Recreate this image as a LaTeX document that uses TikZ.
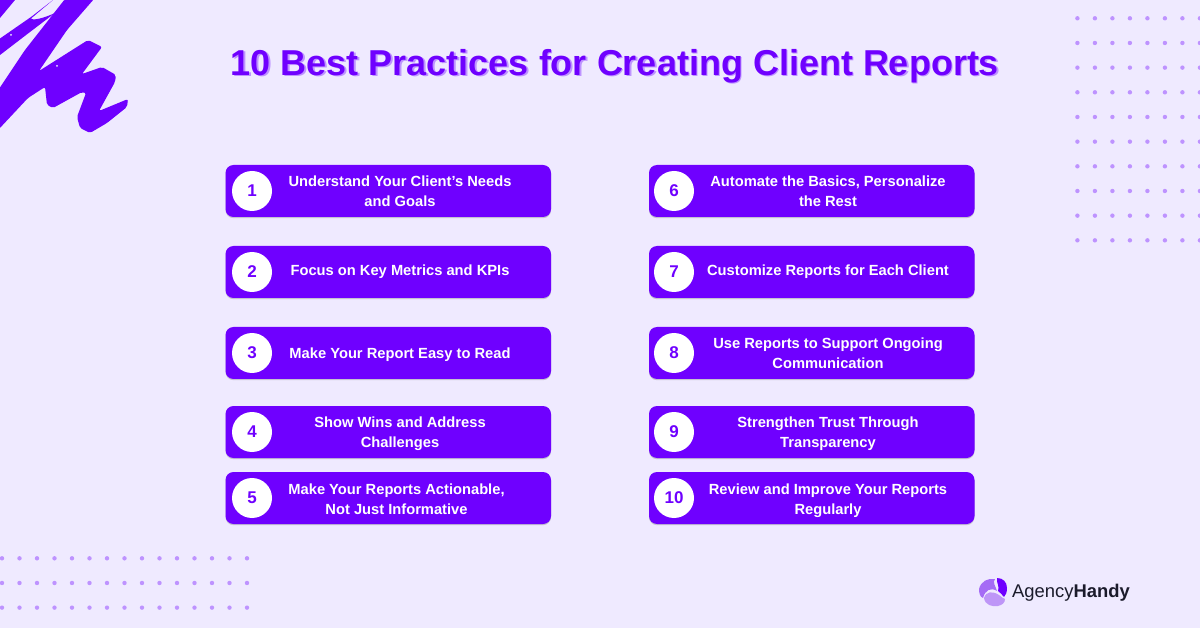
\documentclass[tikz,border=0pt]{standalone}
\usepackage{fontspec}
\setmainfont{Liberation Sans}
\usetikzlibrary{shadows}
\definecolor{pagebg}{HTML}{EFEAFF}
\definecolor{brandviolet}{HTML}{6F00FF}
\definecolor{dotviolet}{HTML}{BE93FF}
\definecolor{petalviolet}{HTML}{A56CF5}
\definecolor{petallight}{HTML}{BE96F7}
\definecolor{logoink}{HTML}{1B1B2B}
\tikzset{
  reportbox/.style={fill=brandviolet,rounded corners=8pt,minimum width=325.5pt,minimum height=52pt,inner sep=0pt,
    drop shadow={shadow xshift=0pt,shadow yshift=-1.2pt,opacity=.3,fill=black!60}},
  numdisc/.style={circle,fill=white,minimum size=40pt,inner sep=0pt,text=brandviolet,font=\fontsize{17}{20}\selectfont\bfseries},
  reporttext/.style={text=white,align=center,inner sep=0pt,font=\fontsize{14.7}{20}\selectfont\bfseries},
  griddot/.style={fill=dotviolet}
}
\begin{document}
\begin{tikzpicture}[x=1pt,y=-1pt]

        \useasboundingbox (0,0) rectangle (1200,628);
        \fill[pagebg] (0,0) rectangle (1200,628);

        \foreach \i in {0,...,7}
          \foreach \j in {0,...,9}
            \fill[griddot] (1077.4+17.5*\i,18.3+24.67*\j) circle (2.2pt);
        \foreach \i in {0,...,14}
          \foreach \j in {0,...,2}
            \fill[griddot] (2+17.5*\i,558.3+24.67*\j) circle (2.2pt);

        \begin{scope}[brandviolet]
          \fill (0,0) -- (15,0) -- (0,18) -- cycle;
          \fill (0,38.5) -- (31,17) -- (53,0) -- (31,18.5)
            .. controls (33,21) and (44,18) .. (55,13)
            -- (30,32) -- (0,55) -- cycle;
          \fill[rounded corners=2pt] (65,-1) -- (94,-1) -- (67,30) -- (39,71) -- (88,40) -- (102,47)
            -- (82,74) -- (102,67) -- (116,75) -- (115,82) -- (99,111) -- (128,99) -- (127,107)
            -- (107,123) -- (90,133) -- (80,128) -- (77,117) -- (86,93) -- (82,92) -- (53,108) -- (47,105)
            -- (45,87) -- (28,98) -- (-1,129) -- (-1,89) -- (25,50) -- cycle;
          \fill[pagebg] (11,35) circle (1pt);
          \fill[pagebg] (57,66) circle (1pt);
        \end{scope}

        \node[text=dotviolet,font=\fontsize{36}{40}\selectfont\bfseries] (titleshade) at (616.2,67.2) {10 Best Practices for Creating Client Reports};
        \node[text=brandviolet,font=\fontsize{36}{40}\selectfont\bfseries] (title) at (615,66) {10 Best Practices for Creating Client Reports};

        \begin{scope}[every node/.style={reportbox}]
          \node (box1)  at (388.25,191) {};
          \node (box2)  at (388.25,272) {};
          \node (box3)  at (388.25,353) {};
          \node (box4)  at (388.25,432) {};
          \node (box5)  at (388.25,498) {};
          \node (box6)  at (811.75,191) {};
          \node (box7)  at (811.75,272) {};
          \node (box8)  at (811.75,353) {};
          \node (box9)  at (811.75,432) {};
          \node (box10) at (811.75,498) {};
        \end{scope}

        \begin{scope}[every node/.style={numdisc}]
          \node (num1)  at (252,191) {1};
          \node (num2)  at (252,272) {2};
          \node (num3)  at (252,353) {3};
          \node (num4)  at (252,432) {4};
          \node (num5)  at (252,498) {5};
          \node (num6)  at (674,191) {6};
          \node (num7)  at (674,272) {7};
          \node (num8)  at (674,353) {8};
          \node (num9)  at (674,432) {9};
          \node (num10) at (674,498) {10};
        \end{scope}

        \begin{scope}[every node/.style={reporttext}]
          \node (txt1)  at (400,191) {Understand Your Client’s Needs\\and Goals};
          \node (txt2)  at (400,272) {Focus on Key Metrics and KPIs};
          \node (txt3)  at (400,355) {Make Your Report Easy to Read};
          \node (txt4)  at (400,434) {Show Wins and Address\\Challenges};
          \node (txt5)  at (396.5,499) {Make Your Reports Actionable,\\Not Just Informative};
          \node (txt6)  at (828,191) {Automate the Basics, Personalize\\the Rest};
          \node (txt7)  at (828,272) {Customize Reports for Each Client};
          \node (txt8)  at (828,353) {Use Reports to Support Ongoing\\Communication};
          \node (txt9)  at (828,434) {Strengthen Trust Through\\Transparency};
          \node (txt10) at (828,501) {Review and Improve Your Reports\\Regularly};
        \end{scope}

        \fill[petalviolet] (979,589) .. controls (981,581) and (988,578) .. (995,579)
          .. controls (992,582) and (996,587) .. (997,591)
          .. controls (991,587) and (985,590) .. (983,598)
          .. controls (980,597) and (979,593) .. (979,589) -- cycle;
        \fill[brandviolet] (997,578) .. controls (1003,578) and (1007,582) .. (1007,588)
          .. controls (1007,592) and (1006,595) .. (1004,597)
          .. controls (1002,594) and (1000,593) .. (998,591)
          .. controls (1000,587) and (996,582) .. (997,578) -- cycle;
        \fill[petallight] (984,598) .. controls (986,591) and (993,591) .. (999,595)
          .. controls (1001,597) and (1003,598) .. (1005,599)
          .. controls (1005,603) and (1002,605) .. (998,606)
          .. controls (992,607) and (985,605) .. (984,598) -- cycle;

        \node[text=logoink,anchor=base west,inner sep=0pt,font=\fontsize{18.4}{22}\selectfont] (logotext) at (1012,597) {Agency\textbf{Handy}};

      \end{tikzpicture}
\end{document}
